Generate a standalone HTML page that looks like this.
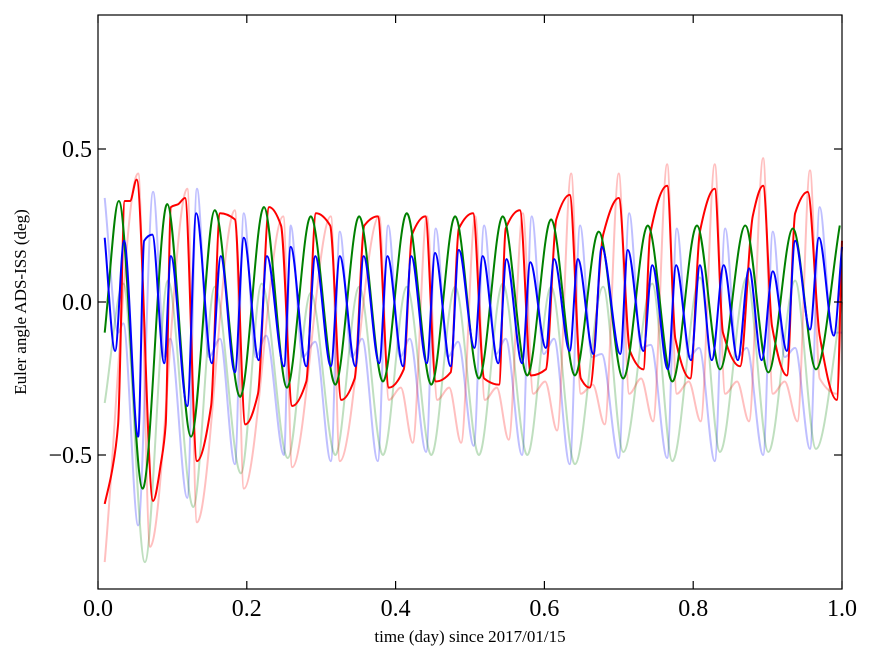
<!DOCTYPE html>
<html>
<head>
<meta charset="utf-8">
<style>
  html,body{margin:0;padding:0;background:#fff;}
  body{width:875px;height:662px;overflow:hidden;}
  svg{display:block;font-family:"Liberation Serif","DejaVu Serif",serif;}
</style>
</head>
<body>
<svg id="chart" width="875" height="662" viewBox="0 0 875 662" xmlns="http://www.w3.org/2000/svg">
  <rect x="0" y="0" width="875" height="662" fill="#fff"/>
  <g id="series"></g>
  <g id="axes"></g>
  <text x="470" y="642" font-size="17" text-anchor="middle">time (day) since 2017/01/15</text>
  <text x="0" y="0" font-size="17" text-anchor="middle" transform="translate(26,302) rotate(-90)">Euler angle ADS-ISS (deg)</text>
</svg>
<script>
// ---- data (days, degrees) ----
const xTicks = [0.0, 0.2, 0.4, 0.6, 0.8, 1.0];
const xTickLabels = ["0.0", "0.2", "0.4", "0.6", "0.8", "1.0"];
const yTicks = [-0.5, 0.0, 0.5];
const yTickLabels = ["\u22120.5", "0.0", "0.5"];

const blueT = [0.009,0.023,0.035,0.054,0.062,0.073,0.089,0.098,0.120,0.132,0.153,0.165,0.184,0.196,0.216,0.227,0.250,0.259,0.280,0.292,0.313,0.325,0.346,0.357,0.378,0.389,0.410,0.421,0.442,0.453,0.474,0.485,0.506,0.517,0.538,0.549,0.570,0.581,0.602,0.613,0.634,0.645,0.666,0.677,0.702,0.712,0.733,0.745,0.766,0.777,0.797,0.809,0.825,0.841,0.860,0.875,0.892,0.907,0.926,0.937,0.957,0.969,0.989,1.0];
const blueV = [0.21,-0.16,0.20,-0.44,0.20,0.22,-0.20,0.15,-0.34,0.29,-0.20,0.15,-0.23,0.21,-0.19,0.15,-0.21,0.18,-0.21,0.15,-0.21,0.15,-0.21,0.15,-0.20,0.15,-0.21,0.15,-0.20,0.16,-0.21,0.17,-0.15,0.15,-0.20,0.14,-0.20,0.13,-0.15,0.14,-0.16,0.14,-0.17,0.18,-0.17,0.17,-0.16,0.12,-0.22,0.12,-0.19,0.12,-0.19,0.12,-0.19,0.11,-0.19,0.10,-0.16,0.20,-0.09,0.21,-0.11,0.18];

const greenT = [0.009,0.028,0.060,0.093,0.125,0.157,0.191,0.223,0.254,0.286,0.319,0.351,0.383,0.415,0.448,0.480,0.512,0.544,0.577,0.609,0.641,0.673,0.706,0.739,0.772,0.805,0.836,0.870,0.901,0.934,0.965,0.997];
const greenV = [-0.10,0.33,-0.61,0.32,-0.44,0.30,-0.31,0.31,-0.28,0.28,-0.27,0.28,-0.26,0.29,-0.27,0.28,-0.25,0.28,-0.24,0.27,-0.24,0.23,-0.25,0.25,-0.26,0.25,-0.22,0.25,-0.23,0.24,-0.22,0.25];

const redT = [0.009,0.019,0.027,0.036,0.043,0.052,0.074,0.085,0.091,0.098,0.108,0.117,0.133,0.152,0.164,0.184,0.198,0.215,0.230,0.246,0.261,0.280,0.293,0.312,0.327,0.345,0.358,0.376,0.391,0.411,0.422,0.440,0.454,0.474,0.485,0.504,0.519,0.539,0.548,0.567,0.582,0.602,0.616,0.634,0.649,0.661,0.679,0.700,0.715,0.733,0.742,0.765,0.776,0.796,0.809,0.829,0.840,0.863,0.880,0.894,0.906,0.926,0.937,0.954,0.970,0.993,1.000];
const redV = [-0.66,-0.55,-0.40,0.33,0.33,0.40,-0.65,-0.52,-0.40,0.31,0.32,0.34,-0.52,-0.34,0.29,0.27,-0.40,-0.30,0.31,0.25,-0.34,-0.26,0.29,0.25,-0.32,-0.25,0.25,0.28,-0.28,-0.22,0.22,0.28,-0.26,-0.23,0.24,0.29,-0.25,-0.27,0.24,0.30,-0.24,-0.22,0.27,0.35,-0.25,-0.28,0.22,0.34,-0.16,-0.22,0.22,0.38,-0.12,-0.25,0.23,0.37,-0.10,-0.21,0.28,0.38,-0.08,-0.24,0.29,0.36,-0.11,-0.32,0.20];

const lightBlueT = [0.009,0.027,0.034,0.054,0.074,0.090,0.097,0.120,0.133,0.149,0.164,0.184,0.196,0.212,0.226,0.250,0.259,0.275,0.292,0.313,0.325,0.341,0.355,0.376,0.390,0.406,0.419,0.441,0.454,0.470,0.484,0.505,0.519,0.535,0.548,0.570,0.583,0.599,0.613,0.634,0.648,0.664,0.677,0.700,0.714,0.730,0.743,0.765,0.778,0.794,0.808,0.829,0.843,0.859,0.872,0.894,0.907,0.923,0.937,0.957,0.970,0.987,1.000];
const lightBlueV = [0.34,-0.10,-0.07,-0.73,0.36,-0.18,-0.12,-0.64,0.37,-0.18,-0.12,-0.53,0.29,-0.18,-0.11,-0.50,0.25,-0.18,-0.13,-0.52,0.23,-0.18,-0.12,-0.52,0.25,-0.18,-0.12,-0.49,0.24,-0.18,-0.13,-0.47,0.25,-0.17,-0.12,-0.50,0.28,-0.17,-0.12,-0.53,0.25,-0.18,-0.17,-0.51,0.29,-0.15,-0.14,-0.51,0.24,-0.18,-0.15,-0.52,0.24,-0.18,-0.15,-0.50,0.23,-0.18,-0.15,-0.48,0.31,-0.10,-0.10];

const lightGreenT = [0.009,0.034,0.063,0.094,0.128,0.157,0.192,0.220,0.255,0.286,0.319,0.351,0.383,0.415,0.448,0.480,0.512,0.544,0.577,0.609,0.641,0.679,0.706,0.745,0.772,0.809,0.836,0.872,0.901,0.937,0.965,1.000];
const lightGreenV = [-0.33,0.06,-0.85,0.07,-0.67,0.05,-0.56,0.06,-0.51,0.03,-0.50,0.05,-0.50,0.05,-0.50,0.05,-0.50,0.06,-0.50,0.05,-0.53,0.05,-0.49,0.06,-0.52,0.08,-0.49,0.08,-0.49,0.07,-0.48,0.00];

const lightRedT = [0.009,0.054,0.070,0.120,0.133,0.184,0.196,0.249,0.261,0.313,0.325,0.378,0.391,0.407,0.423,0.442,0.456,0.472,0.488,0.507,0.520,0.536,0.552,0.571,0.585,0.601,0.617,0.636,0.649,0.665,0.681,0.700,0.714,0.730,0.746,0.765,0.778,0.794,0.810,0.829,0.843,0.859,0.875,0.894,0.907,0.923,0.940,0.957,0.970,0.993,1.000];
const lightRedV = [-0.85,0.42,-0.80,0.37,-0.72,0.30,-0.61,0.28,-0.54,0.28,-0.52,0.28,-0.32,-0.28,-0.46,0.28,-0.32,-0.28,-0.46,0.28,-0.32,-0.28,-0.45,0.29,-0.30,-0.26,-0.42,0.42,-0.30,-0.27,-0.40,0.42,-0.30,-0.25,-0.39,0.45,-0.30,-0.26,-0.39,0.45,-0.30,-0.26,-0.39,0.47,-0.30,-0.26,-0.39,0.43,-0.25,-0.30,0.00];

// ---- axes geometry ----
const L = 98, R = 842, T = 15, B = 589;
const Y0 = 302, YS = 306; // px for value 0, px per degree
function xScale(t){ return L + t * (R - L); }
function yScale(v){ return Y0 - v * YS; }

const NS = "http://www.w3.org/2000/svg";

function monotonePath(ts, vs){
  const n = ts.length;
  const xs = ts.map(xScale), ys = vs.map(yScale);
  const d = [], m = new Array(n);
  for (let i = 0; i < n - 1; i++) d.push((ys[i+1]-ys[i])/(xs[i+1]-xs[i]));
  m[0] = d[0]; m[n-1] = d[n-2];
  for (let i = 1; i < n - 1; i++){
    if (d[i-1]*d[i] <= 0) m[i] = 0;
    else m[i] = 2/(1/d[i-1] + 1/d[i]) / 1;
  }
  let p = "M" + xs[0].toFixed(2) + "," + ys[0].toFixed(2);
  for (let i = 0; i < n - 1; i++){
    const h = xs[i+1] - xs[i];
    const c1x = xs[i] + h/3, c1y = ys[i] + m[i]*h/3;
    const c2x = xs[i+1] - h/3, c2y = ys[i+1] - m[i+1]*h/3;
    p += " C" + c1x.toFixed(2) + "," + c1y.toFixed(2) + " " + c2x.toFixed(2) + "," + c2y.toFixed(2) + " " + xs[i+1].toFixed(2) + "," + ys[i+1].toFixed(2);
  }
  return p;
}

const sg = document.getElementById("series");
function addSeries(ts, vs, color, opacity, name){
  const el = document.createElementNS(NS, "path");
  el.setAttribute("d", monotonePath(ts, vs));
  el.setAttribute("fill", "none");
  el.setAttribute("stroke", color);
  el.setAttribute("stroke-width", "2");
  el.setAttribute("stroke-opacity", opacity);
  el.setAttribute("stroke-linejoin", "round");
  
  
  sg.appendChild(el);
}
addSeries(lightBlueT, lightBlueV, "#0000ff", 0.25, "series-light-blue");
addSeries(lightGreenT, lightGreenV, "#008000", 0.25, "series-light-green");
addSeries(lightRedT, lightRedV, "#ff0000", 0.25, "series-light-red");
addSeries(redT, redV, "#ff0000", 1, "series-red");
addSeries(greenT, greenV, "#008000", 1, "series-green");
addSeries(blueT, blueV, "#0000ff", 1, "series-blue");

const ag = document.getElementById("axes");
const frame = document.createElementNS(NS, "rect");
frame.setAttribute("x", L); frame.setAttribute("y", T);
frame.setAttribute("width", R - L); frame.setAttribute("height", B - T);
frame.setAttribute("fill", "none"); frame.setAttribute("stroke", "#000"); frame.setAttribute("stroke-width", "1.2");


ag.appendChild(frame);

function line(x1,y1,x2,y2){
  const l = document.createElementNS(NS, "line");
  l.setAttribute("x1",x1); l.setAttribute("y1",y1); l.setAttribute("x2",x2); l.setAttribute("y2",y2);
  l.setAttribute("stroke","#000"); l.setAttribute("stroke-width","1.2");
  return l;
}
xTicks.forEach((t, i) => {
  const x = xScale(t);
  const tb = line(x, B, x, B - 8);
  
  
  ag.appendChild(tb);
  const tt = line(x, T, x, T + 8);
  
  
  ag.appendChild(tt);
  const tx = document.createElementNS(NS, "text");
  tx.setAttribute("x", x); tx.setAttribute("y", B + 27);
  tx.setAttribute("font-size", "24"); tx.setAttribute("text-anchor", "middle");
  tx.textContent = xTickLabels[i];
  
  
  ag.appendChild(tx);
});
yTicks.forEach((v, i) => {
  const y = yScale(v);
  const tl = line(L, y, L + 8, y);
  
  
  ag.appendChild(tl);
  const tr = line(R, y, R - 8, y);
  
  
  ag.appendChild(tr);
  const tx = document.createElementNS(NS, "text");
  tx.setAttribute("x", L - 6); tx.setAttribute("y", y + 8);
  tx.setAttribute("font-size", "24"); tx.setAttribute("text-anchor", "end");
  tx.textContent = yTickLabels[i];
  
  
  ag.appendChild(tx);
});
</script>
</body>
</html>
